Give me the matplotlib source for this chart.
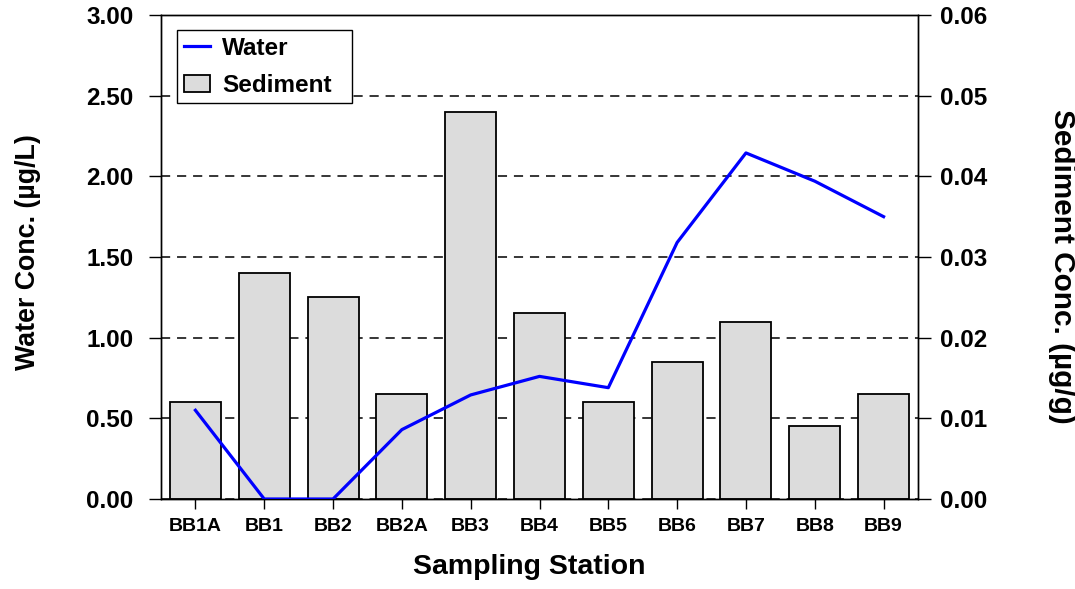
import matplotlib
matplotlib.use("Agg")
import matplotlib.pyplot as plt
from matplotlib.lines import Line2D
from matplotlib.patches import Patch
import numpy as np

plt.rcParams['font.family'] = ['Liberation Sans', 'DejaVu Sans']
plt.rcParams['font.weight'] = 'bold'

stations = ["BB1A", "BB1", "BB2", "BB2A", "BB3", "BB4", "BB5", "BB6", "BB7", "BB8", "BB9"]
water_conc = [0.55, 0.0, 0.0, 0.43, 0.645, 0.76, 0.69, 1.59, 2.145, 1.97, 1.75]
sediment_conc = [0.012, 0.028, 0.025, 0.013, 0.048, 0.023, 0.012, 0.017, 0.022, 0.009, 0.013]
water_ticks = [0.0, 0.5, 1.0, 1.5, 2.0, 2.5, 3.0]
sediment_ticks = [0.00, 0.01, 0.02, 0.03, 0.04, 0.05, 0.06]

fig = plt.figure(figsize=(10.75, 5.89), dpi=100)
ax = fig.add_axes([161 / 1075, 90 / 589, 757 / 1075, 484 / 589])
ax2 = ax.twinx()

x = np.arange(len(stations))

# Sediment bars and gridlines on the secondary axis, below the water line
ax2.set_axisbelow(True)
ax2.bar(x, sediment_conc, width=0.74, color="#dcdcdc", edgecolor="black",
        linewidth=1.3, zorder=2)
ax2.set_ylim(0, 0.06)
ax2.set_yticks(sediment_ticks)
ax2.set_yticklabels([f"{t:.2f}" for t in sediment_ticks])
ax2.grid(axis="y", color="black", linestyle=(0, (6, 4.5)), linewidth=1.1, zorder=0)
ax2.set_ylabel("Sediment Conc. (µg/g)", fontsize=21.4, fontweight="bold",
               rotation=270, va="center")
ax2.yaxis.set_label_coords(1.19, 0.48)

# Water line on the primary axis, drawn on top
ax.set_zorder(ax2.get_zorder() + 1)
ax.patch.set_visible(False)
ax.plot(x, water_conc, color="#0000ff", linewidth=2.3, zorder=3)
ax.set_ylim(0, 3.0)
ax.set_yticks(water_ticks)
ax.set_yticklabels([f"{t:.2f}" for t in water_ticks])
ax.set_xlim(-0.5, len(stations) - 0.5)
ax.set_xticks(x)
ax.set_xticklabels(stations, fontsize=14, fontweight="bold")
ax.set_ylabel("Water Conc. (µg/L)", fontsize=19.3, fontweight="bold", va="center")
ax.yaxis.set_label_coords(-0.176, 0.51)
ax.set_xlabel("Sampling Station", fontsize=20.5, fontweight="bold", va="center")
ax.xaxis.set_label_coords(0.486, -0.1415)

for a in (ax, ax2):
    for s in a.spines.values():
        s.set_linewidth(1.0)
        s.set_color("black")
    a.tick_params(axis="y", direction="out", length=9, width=1.0, labelsize=17.5)
ax.tick_params(axis="y", pad=11)
ax2.tick_params(axis="y", pad=7)
ax.tick_params(axis="x", direction="out", length=7.5, width=1.0, pad=6)
for lbl in ax.get_yticklabels() + ax2.get_yticklabels():
    lbl.set_fontweight("bold")

handles = [Line2D([0], [0], color="#0000ff", linewidth=2.3),
           Patch(facecolor="#dcdcdc", edgecolor="black", linewidth=1.3)]
leg = ax.legend(handles, ["Water", "Sediment"], loc="upper left",
                bbox_to_anchor=(0.0211, 0.5, 0.2312, 0.469), mode="expand",
                borderaxespad=0, fancybox=False, edgecolor="black", framealpha=1,
                prop={"size": 17.5, "weight": "bold"}, handlelength=1.1,
                handletextpad=0.5, borderpad=0.27, labelspacing=0.59)
leg.get_frame().set_linewidth(1.0)

fig.savefig("out.png", dpi=100)
